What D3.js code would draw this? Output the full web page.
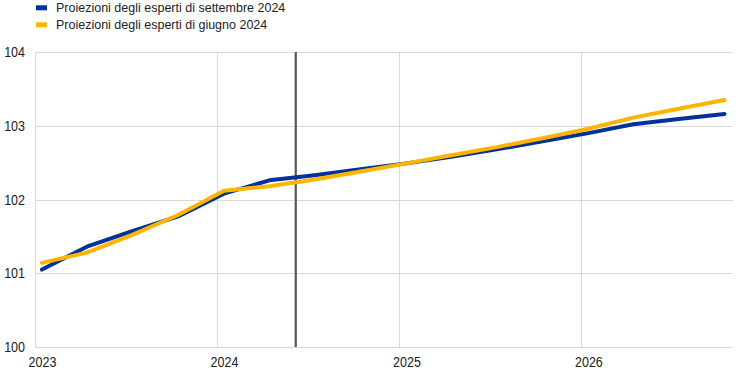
<!DOCTYPE html>
<html><head><meta charset="utf-8">
<script src="https://cdn.jsdelivr.net/npm/d3@7"></script>
<style>body{margin:0;background:#fff}svg{display:block;font-family:"Liberation Sans",Arial,sans-serif}</style>
</head><body><svg id="c" width="743" height="374"></svg>
<script>
const quarters = ["2023Q1","2023Q2","2023Q3","2023Q4","2024Q1","2024Q2","2024Q3","2024Q4","2025Q1","2025Q2","2025Q3","2025Q4","2026Q1","2026Q2","2026Q3","2026Q4"];
const september2024 = [101.05,101.36,101.57,101.77,102.08,102.26,102.33,102.41,102.49,102.58,102.68,102.79,102.90,103.02,103.09,103.16];
const june2024 = [101.14,101.28,101.52,101.79,102.12,102.18,102.27,102.38,102.49,102.60,102.71,102.83,102.96,103.11,103.23,103.35];
const yTicks = [100,101,102,103,104];
const xTickYears = [2023,2024,2025,2026];
const cutoffDate = new Date(2024,5,7);
const seriesNames = ["Proiezioni degli esperti di settembre 2024","Proiezioni degli esperti di giugno 2024"];
const colors = ["#003299","#FFB400"];

const svg = d3.select("#c");
const pLeft=35, pRight=733, pTop=52, pBottom=347;
const qDate = q => new Date(+q.slice(0,4), (+q.slice(5)-1)*3, 15);
const x = d3.scaleTime().domain([new Date(2023,0,1), new Date(2026,10,1)]).range([pLeft,pRight]);
const y = d3.scaleLinear().domain([100,104]).range([pBottom,pTop]);

svg.append("g").selectAll("line").data(yTicks).join("line")
  .attr("x1",pLeft).attr("x2",pRight).attr("y1",d=>Math.round(y(d))+0.5).attr("y2",d=>Math.round(y(d))+0.5)
  .attr("stroke","#d9d9d9").attr("stroke-width",1);
svg.append("g").selectAll("line").data(xTickYears).join("line")
  .attr("x1",d=>Math.round(x(new Date(d,0,1)))+0.5).attr("x2",d=>Math.round(x(new Date(d,0,1)))+0.5)
  .attr("y1",pTop).attr("y2",pBottom).attr("stroke","#d9d9d9").attr("stroke-width",1);

svg.append("g").selectAll("text").data(yTicks).join("text")
  .attr("transform",d=>`translate(25,${y(d)+5}) scale(1,1.15)`)
  .attr("text-anchor","end").attr("font-size",12.5).attr("fill","#222").text(d=>d);
svg.append("g").selectAll("text").data(xTickYears).join("text")
  .attr("transform",d=>`translate(${x(new Date(d,0,16))},366.5) scale(1,1.15)`)
  .attr("text-anchor","middle").attr("font-size",12.5).attr("fill","#222").text(d=>d);

svg.append("line").attr("x1",x(cutoffDate)).attr("x2",x(cutoffDate))
  .attr("y1",pTop).attr("y2",pBottom).attr("stroke","#555").attr("stroke-width",2.2);

const line = d3.line().x((d,i)=>x(qDate(quarters[i]))).y(d=>y(d));
[september2024, june2024].forEach((s,k)=>{
  svg.append("path").attr("d",line(s)).attr("fill","none")
    .attr("stroke",colors[k]).attr("stroke-width",4)
    .attr("stroke-linecap","round").attr("stroke-linejoin","round");
});

const lg = svg.append("g");
seriesNames.forEach((n,k)=>{
  const base = 12.3 + k*17;
  lg.append("rect").attr("x",36).attr("y",base-7).attr("width",11).attr("height",5).attr("fill",colors[k]);
  lg.append("text").attr("x",56).attr("y",base).attr("font-size",12.5).attr("fill","#222").text(n);
});
</script></body></html>
